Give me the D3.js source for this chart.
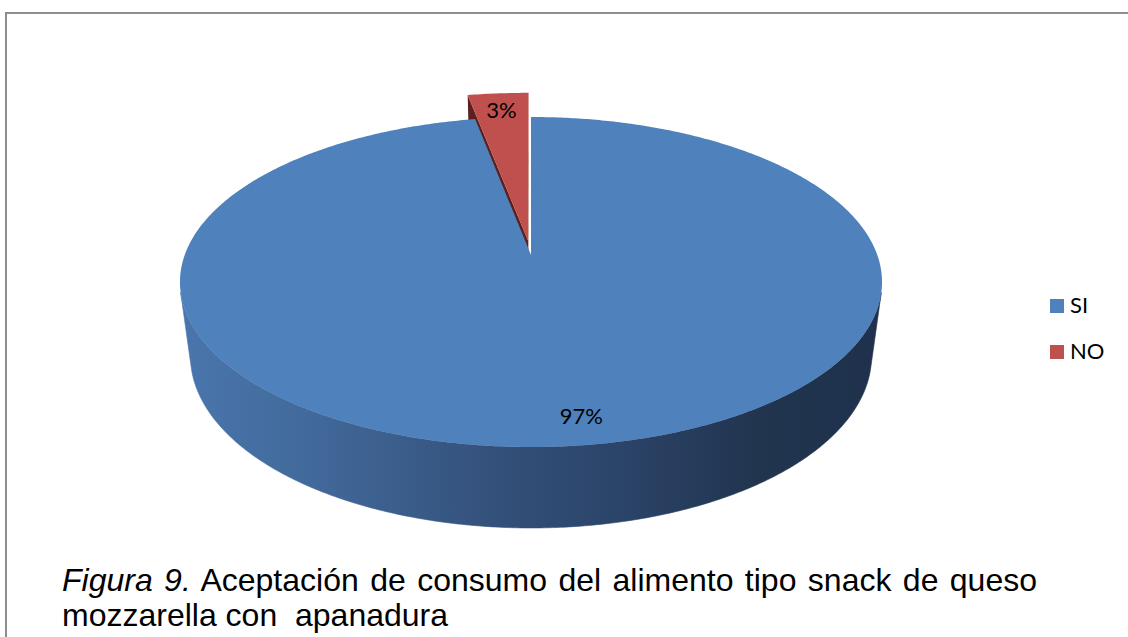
<!DOCTYPE html>
<html>
<head>
<meta charset="utf-8">
<script src="https://cdn.jsdelivr.net/npm/d3@7"></script>
<style>
  html, body { margin: 0; padding: 0; background: #ffffff; }
  svg { display: block; }
</style>
</head>
<body>
<script>
// Survey answers: acceptance of the breaded mozzarella snack
const categories = ["SI", "NO"];
const values = [97, 3];
const palette = ["#4f81bd", "#c0504d"];
const sideDark = ["#2a4466", "#5e201e"];
const captionItalic = "Figura 9.";
const captionLine1 = " Aceptación de consumo del alimento tipo snack de queso";
const captionLine2 = "mozzarella con  apanadura";

const W = 1128, H = 637;
const svg = d3.select("body").append("svg").attr("width", W).attr("height", H);

// outer frame (only its top and left edges fall inside the page)
svg.append("rect")
  .attr("x", 6).attr("y", 13).attr("width", W + 40).attr("height", H + 40)
  .attr("fill", "none").attr("stroke", "#8e8e8e").attr("stroke-width", 2);

// ---- perspective view of the pie disc ----
// u: left/right, v: back(-)/front(+), z: 0 = top face, 1 = bottom face
const CX = 531, CY = 255;
const K = -0.1636, MU = 0.03, DEPTH = 0.4726;  // DEPTH in units of B
const xs = d3.scaleLinear().domain([-1, 1]).range([CX - 346.3, CX + 346.3]);
const ys = d3.scaleLinear().domain([-1, 1]).range([CY - 160.6, CY + 160.6]);
function proj(u, v, z) {
  const w = 1 + K * v + MU * z;
  return [xs(u / w), ys((v + DEPTH * z) / w)];
}

const total = d3.sum(values);
const pct = d3.format(".0%");
const arcs = d3.pie().sort(null).value(d => d)(values);

// exploded slice settings (per category)
const explode = [0, 0.09];
const radius = [1, 1.12];

function polar(a, r, off) {
  return [off[0] + r * Math.sin(a), off[1] - r * Math.cos(a)];
}
function area(pts) {
  let s = 0;
  for (let i = 0; i < pts.length; i++) {
    const p = pts[i], q = pts[(i + 1) % pts.length];
    s += p[0] * q[1] - q[0] * p[1];
  }
  return s / 2;
}
const line = d3.line();

// side shading gradient, light on the left, dark on the right
const defs = svg.append("defs");
const grad = defs.append("linearGradient").attr("id", "side0")
  .attr("gradientUnits", "userSpaceOnUse")
  .attr("x1", CX - 350).attr("x2", CX + 350).attr("y1", 0).attr("y2", 0);
[[0, "#4a76ad"], [0.2, "#416899"], [0.45, "#33507a"], [0.65, "#2a4266"], [0.82, "#21354f"], [1, "#1f314c"]]
  .forEach(([o, c]) => grad.append("stop").attr("offset", o).attr("stop-color", c));

const slices = arcs.map((d, i) => {
  const mid = (d.startAngle + d.endAngle) / 2;
  const off = [explode[i] * Math.sin(mid), -explode[i] * Math.cos(mid)];
  return { d, i, mid, off, r: radius[i] };
}).sort((a, b) => a.off[1] - a.r * Math.cos(a.mid) - (b.off[1] - b.r * Math.cos(b.mid)));

const g = svg.append("g");
slices.forEach(s => {
  const { d, i, off, r } = s;
  const a0 = d.startAngle, a1 = d.endAngle;
  const n = Math.max(8, Math.ceil((a1 - a0) / 0.01));
  const angles = d3.range(n + 1).map(k => a0 + (a1 - a0) * k / n);
  const sideFill = i === 0 ? "url(#side0)" : sideDark[i];

  const apexT = proj(off[0], off[1], 0), apexB = proj(off[0], off[1], 1);
  const rimT = a => { const p = polar(a, r, off); return proj(p[0], p[1], 0); };
  const rimB = a => { const p = polar(a, r, off); return proj(p[0], p[1], 1); };

  // radial faces
  const faces = [
    [apexT, rimT(a0), rimB(a0), apexB],
    [apexT, apexB, rimB(a1), rimT(a1)]
  ];
  faces.forEach(f => {
    if (area(f) < 0) g.append("path").attr("d", line(f) + "Z").attr("fill", sideDark[i]);
  });

  // outer wall: keep only runs that face the viewer
  let run = [];
  const flush = () => {
    if (run.length > 1) {
      const top = run.map(rimT), bot = run.map(rimB).reverse();
      g.append("path").attr("d", line(top.concat(bot)) + "Z")
        .attr("fill", sideFill).attr("stroke", sideFill).attr("stroke-width", 0.6);
    }
    run = [];
  };
  for (let k = 0; k < n; k++) {
    const q = [rimT(angles[k]), rimT(angles[k + 1]), rimB(angles[k + 1]), rimB(angles[k])];
    if (area(q) < 0) {
      if (run.length === 0) run.push(angles[k]);
      run.push(angles[k + 1]);
    } else flush();
  }
  flush();

  // top face
  const topPts = [apexT].concat(angles.map(rimT));
  g.append("path").attr("d", line(topPts) + "Z").attr("fill", palette[i]);
});

// value labels on the top faces
const labelTurn = [-0.05, 0];
const labelR = 0.87;
slices.forEach(s => {
  const p = polar(s.mid + labelTurn[s.i], labelR * s.r, s.off);
  const [x, y] = proj(p[0], p[1], 0);
  svg.append("text")
    .attr("x", x).attr("y", y)
    .attr("text-anchor", "middle").attr("dominant-baseline", "central")
    .attr("font-family", "Lato, 'Open Sans', sans-serif").attr("font-size", 22)
    .attr("fill", "#000")
    .text(pct(s.d.value / total));
});

// legend
const legend = svg.append("g").attr("transform", "translate(1050,299)");
categories.forEach((c, i) => {
  const row = legend.append("g").attr("transform", `translate(0,${i * 46})`);
  row.append("rect").attr("width", 14).attr("height", 14).attr("fill", palette[i]);
  row.append("text").attr("x", 20).attr("y", 14)
    .attr("font-family", "Lato, 'Open Sans', sans-serif").attr("font-size", 22)
    .attr("fill", "#000").text(c);
});

// figure caption
const cap = svg.append("g")
  .attr("font-family", "'Liberation Sans', Arial, sans-serif")
  .attr("font-size", 32).attr("fill", "#000");
const t1 = cap.append("text").attr("x", 62).attr("y", 591).style("white-space", "pre");
t1.append("tspan").attr("font-style", "italic").text(captionItalic);
t1.append("tspan").text(captionLine1);
const t2 = cap.append("text").attr("x", 62).attr("y", 626).style("white-space", "pre").text(captionLine2);

// spread the words of the justified line to the set width
function fit(t, target) {
  const len = t.node().getComputedTextLength();
  const spaces = (t.text().match(/ /g) || []).length;
  if (spaces > 0 && len < target) t.attr("word-spacing", (target - len) / spaces);
}
fit(t1, 975);
</script>
</body>
</html>
